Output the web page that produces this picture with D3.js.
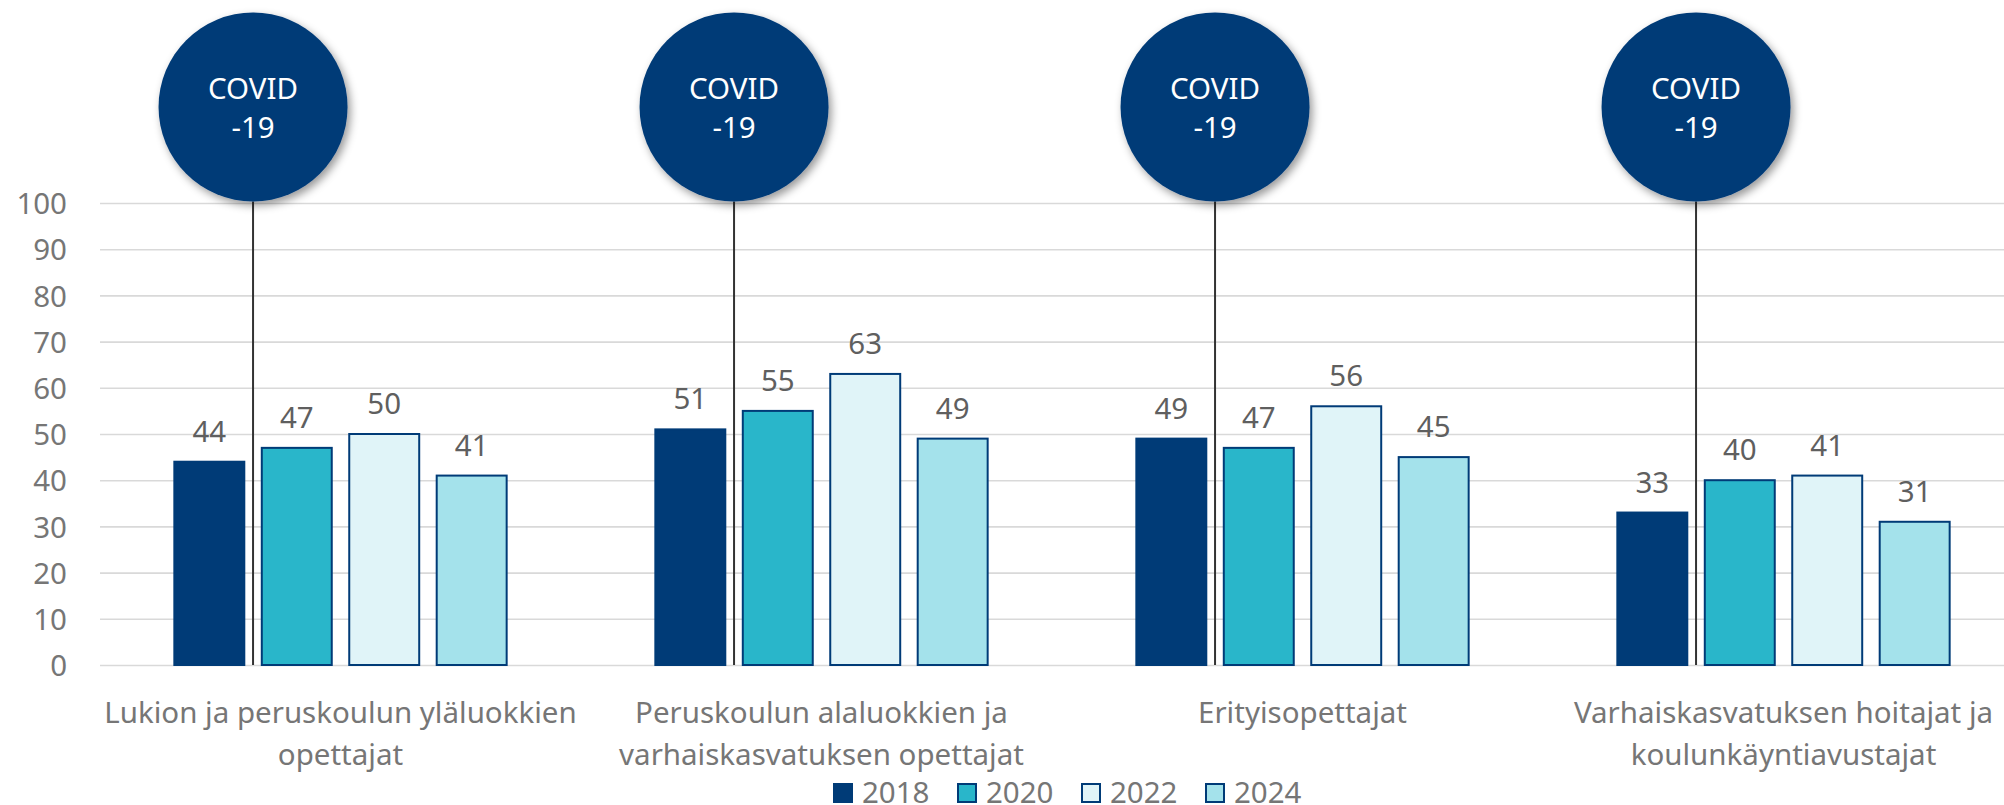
<!DOCTYPE html>
<html>
<head>
<meta charset="utf-8">
<script src="https://cdn.jsdelivr.net/npm/d3@7"></script>
<style>
  body { margin: 0; background: #fff; }
  svg { display: block; font-family: "Noto Sans", "Open Sans", sans-serif; }
</style>
</head>
<body>
<div id="chart"></div>
<script>
// categories, each split into the two lines shown under the axis
const categories = ["Lukion ja peruskoulun yläluokkien opettajat",
                    "Peruskoulun alaluokkien ja varhaiskasvatuksen opettajat",
                    "Erityisopettajat",
                    "Varhaiskasvatuksen hoitajat ja koulunkäyntiavustajat"];
const categoryLines = [["Lukion ja peruskoulun yläluokkien", "opettajat"],
                       ["Peruskoulun alaluokkien ja", "varhaiskasvatuksen opettajat"],
                       ["Erityisopettajat"],
                       ["Varhaiskasvatuksen hoitajat ja", "koulunkäyntiavustajat"]];
const years = ["2018", "2020", "2022", "2024"];
const values2018 = [44, 51, 49, 33];
const values2020 = [47, 55, 47, 40];
const values2022 = [50, 63, 56, 41];
const values2024 = [41, 49, 45, 31];
const yTicks = [0, 10, 20, 30, 40, 50, 60, 70, 80, 90, 100];
const markerLabel = ["COVID", "-19"];

(function() {
  const width = 2004, height = 805;
  const margin = {left: 100, top: 203, bottom: 665};
  const bandW = 481;
  const colors = {"2018": "#003b77", "2020": "#29b6ca", "2022": "#e0f4f8", "2024": "#a4e2eb"};
  const series = {"2018": values2018, "2020": values2020, "2022": values2022, "2024": values2024};

  const x0 = d3.scaleBand().domain(categories)
      .range([margin.left, margin.left + bandW * categories.length]);
  const x1 = d3.scaleBand().domain(years).range([0, x0.bandwidth()])
      .paddingInner(0.2).paddingOuter(0.85);
  const y = d3.scaleLinear().domain([0, 100]).range([margin.bottom, margin.top]);

  const svg = d3.select("#chart").append("svg")
      .attr("width", width).attr("height", height);

  const defs = svg.append("defs");
  defs.append("filter").attr("id", "shadow")
      .attr("x", "-30%").attr("y", "-30%").attr("width", "160%").attr("height", "160%")
    .append("feDropShadow")
      .attr("dx", 3).attr("dy", 4).attr("stdDeviation", 4)
      .attr("flood-color", "#000").attr("flood-opacity", 0.4);

  // gridlines + y labels
  const yAxis = svg.append("g")
      .attr("transform", "translate(" + margin.left + ",0)")
      .call(d3.axisLeft(y).tickValues(yTicks).tickSize(-width).tickPadding(33));
  yAxis.select(".domain").remove();
  yAxis.selectAll(".tick line").attr("stroke", "#d9d9d9").attr("stroke-width", 1.6);
  yAxis.selectAll(".tick text")
      .attr("fill", "#767676").attr("font-size", 29.5)
      .attr("font-family", "'Noto Sans', sans-serif")
      .attr("dy", "0.36em");

  // covid markers between the 2018 and 2020 bars
  const markerX = c => x0(c) + x1("2018") + x1.bandwidth() + (x1.step() - x1.bandwidth()) / 2;
  const r = 94.5, cy = 107;
  svg.append("g").selectAll("line").data(categories).join("line")
      .attr("x1", markerX).attr("x2", markerX)
      .attr("y1", cy + r).attr("y2", y(0))
      .attr("stroke", "#333").attr("stroke-width", 2);

  // bars
  const groups = svg.append("g").selectAll("g").data(categories).join("g")
      .attr("transform", c => "translate(" + x0(c) + ",0)");
  groups.selectAll("rect")
      .data((c, i) => years.map(yr => ({year: yr, value: series[yr][i]})))
      .join("rect")
      .attr("x", d => x1(d.year))
      .attr("y", d => y(d.value))
      .attr("width", x1.bandwidth())
      .attr("height", d => y(0) - y(d.value))
      .attr("fill", d => colors[d.year])
      .attr("stroke", "#003b77").attr("stroke-width", 2);
  groups.selectAll("text")
      .data((c, i) => years.map(yr => ({year: yr, value: series[yr][i]})))
      .join("text")
      .attr("x", d => x1(d.year) + x1.bandwidth() / 2)
      .attr("y", d => y(d.value) - 20)
      .attr("text-anchor", "middle")
      .attr("fill", "#5f5f5f").attr("font-size", 29.5)
      .text(d => d.value);

  // covid circles
  const markers = svg.append("g").selectAll("g").data(categories).join("g")
      .attr("transform", c => "translate(" + markerX(c) + "," + cy + ")");
  markers.append("circle").attr("r", r).attr("fill", "#003b77")
      .attr("filter", "url(#shadow)");
  markers.append("text").attr("text-anchor", "middle").attr("y", -8)
      .attr("fill", "#fff").attr("font-size", 29.5).text(markerLabel[0]);
  markers.append("text").attr("text-anchor", "middle").attr("y", 31)
      .attr("fill", "#fff").attr("font-size", 29.5).text(markerLabel[1]);

  // category labels
  svg.append("g").selectAll("text").data(categories).join("text")
      .attr("x", c => x0(c) + x0.bandwidth() / 2)
      .attr("y", 723)
      .attr("text-anchor", "middle")
      .attr("fill", "#767676").attr("font-size", 29.5)
      .each(function(c, i) {
        d3.select(this).selectAll("tspan").data(categoryLines[i]).join("tspan")
            .attr("x", x0(c) + x0.bandwidth() / 2)
            .attr("dy", (d, j) => j === 0 ? 0 : 42)
            .text(d => d);
      });

  // legend (sits at the very bottom edge, as in the original)
  const legend = svg.append("g").selectAll("g").data(years).join("g")
      .attr("transform", (d, i) => "translate(" + (833 + i * 124) + ",783)");
  legend.append("rect").attr("x", 1).attr("y", 1).attr("width", 18).attr("height", 18)
      .attr("fill", d => colors[d]).attr("stroke", "#003b77").attr("stroke-width", 2);
  legend.append("text").attr("x", 29).attr("y", 20)
      .attr("fill", "#767676").attr("font-size", 29.5).text(d => d);
})();
</script>
</body>
</html>
